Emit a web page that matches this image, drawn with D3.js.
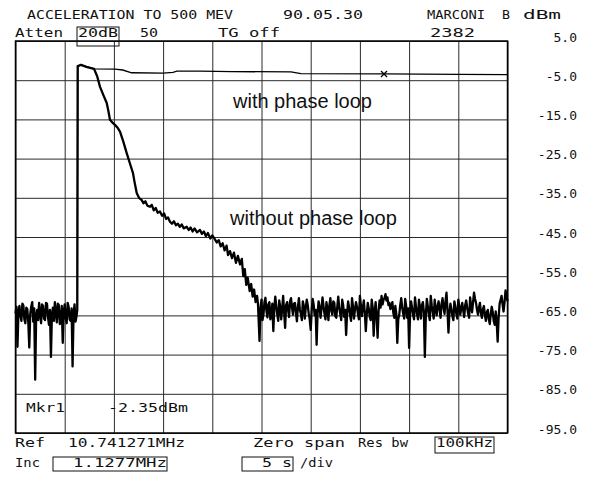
<!DOCTYPE html>
<html>
<head>
<meta charset="utf-8">
<script src="https://cdn.jsdelivr.net/npm/d3@7"></script>
<style>
body{margin:0;background:#fff;}
.mono{font-family:"DejaVu Sans Mono",monospace;font-size:13px;fill:#111;}
.note{font-family:"Liberation Sans",Arial,sans-serif;font-size:20px;fill:#111;}
</style>
</head>
<body>
<div id="chart"></div>
<script>
// time axis: zero span, 5 s/div ; level axis: 10 dB/div, ref 5 dBm
var xTicks=[0,5,10,15,20,25,30,35,40,45,50];
var yTicks=[5,-5,-15,-25,-35,-45,-55,-65,-75,-85,-95];

// noise floor before the beam (t = 0 .. 6.2 s, every 0.1 s)
var preStart=0, noiseStep=0.1;
var preNoise=[-64.5,-62.8,-73.0,-64.0,-62.6,-65.0,-66.4,-62.0,-62.5,-66.0,-67.0,-63.0,-63.4,-66.8,-73.2,-64.6,
	-62.8,-61.6,-66.6,-63.2,-81.4,-65.0,-63.6,-66.2,-61.8,-64.4,-67.0,-62.2,-62.6,-65.8,-66.2,-61.8,
	-62.0,-65.4,-67.4,-63.6,-75.6,-64.8,-63.0,-66.4,-61.6,-64.2,-66.8,-62.0,-62.4,-67.2,-66.0,-62.6,
	-72.0,-64.2,-62.2,-65.6,-67.0,-61.8,-62.8,-66.0,-66.4,-63.2,-78.0,-64.6,-62.2,-66.6,-65.2];

// without phase loop: edge and decay [t(s), dBm]
var decay=[[6.28,-63.5],[6.32,-1.4],[6.66,-1.1],[7.2,-1.6],[7.98,-2.1],[8.3,-4.0],[8.59,-6.7],[8.9,-8.6],
	[9.27,-10.8],[9.45,-13.0],[9.6,-15.1],[9.85,-15.8],[10.11,-16.4],[10.4,-17.2],[10.62,-18.1],[10.95,-20.6],
	[11.3,-23.6],[11.6,-26.0],[11.94,-28.7],[12.1,-31.0],[12.32,-33.8],[12.55,-35.0],[12.83,-35.6],[13.0,-36.4],
	[13.2,-35.9],[13.4,-37.0],[13.67,-37.3],[13.85,-36.8],[14.05,-38.2],[14.25,-37.6],[14.45,-38.8],[14.68,-38.5],
	[14.9,-39.6],[15.1,-39.0],[15.3,-40.4],[15.5,-40.0],[15.7,-41.1],[15.9,-41.6],[16.1,-41.0],[16.3,-42.0],
	[16.5,-41.6],[16.7,-42.4],[16.9,-41.8],[17.1,-42.8],[17.4,-42.4],[17.6,-43.2],[17.8,-42.6],[18.0,-43.6],
	[18.2,-42.8],[18.45,-43.8],[18.75,-43.2],[18.95,-44.2],[19.15,-43.6],[19.35,-44.8],[19.55,-44.0],[19.8,-45.4],
	[20.0,-44.6],[20.27,-45.6],[20.45,-46.4],[20.65,-45.8],[20.85,-47.4],[21.05,-46.6],[21.25,-48.4],[21.45,-47.2],
	[21.6,-49.6],[21.8,-48.6],[22.0,-50.4],[22.2,-49.0],[22.4,-51.6],[22.6,-49.8],[22.82,-52.0],[23.0,-50.6],
	[23.15,-55.0],[23.3,-53.2],[23.45,-57.2],[23.6,-55.4],[23.8,-58.8],[23.95,-57.0],[24.1,-60.2],[24.25,-58.4],
	[24.4,-61.6],[24.55,-60.0],[24.64,-62.0]];

// noise floor after decay (t = 24.8 .. 50 s, every 0.1 s)
var postStart=24.8;
var postNoise=[
	-71.5,-63.0,-61.0,-66.2,-64.8,-61.6,-60.5,-63.8,-65.5,-62.2,-61.6,-66.0,-64.6,-62.0,-69.0,-63.2,
	-60.2,-62.6,-64.8,-66.4,-61.2,-62.8,-66.0,-63.4,-60.0,-64.2,-68.2,-62.4,-61.6,-63.6,-65.4,-61.4,
	-60.6,-63.0,-64.8,-62.0,-61.8,-64.2,-66.5,-62.8,-60.6,-63.6,-64.6,-66.2,-61.4,-62.6,-65.8,-63.0,
	-61.0,-62.4,-64.6,-66.0,-68.7,-63.8,-60.8,-62.2,-65.0,-63.6,-72.5,-64.4,-61.4,-62.8,-65.6,-63.2,
	-60.4,-62.6,-64.6,-66.0,-61.6,-63.4,-66.2,-62.4,-60.6,-63.8,-64.8,-61.4,-61.8,-65.2,-65.6,-62.8,
	-60.2,-63.0,-64.6,-66.2,-61.0,-62.4,-65.4,-63.6,-70.0,-64.4,-61.4,-63.0,-65.0,-66.4,-60.6,-62.8,
	-65.8,-63.4,-61.6,-62.8,-64.6,-66.0,-60.0,-62.4,-65.2,-63.0,-61.2,-64.4,-69.0,-64.6,-61.8,-63.2,
	-65.4,-66.2,-61.0,-63.0,-70.2,-64.2,-61.6,-65.6,-70.7,-63.8,-61.2,-63.0,-60.0,-62.2,-61.0,-60.6,
	-59.6,-61.2,-60.4,-62.4,-61.8,-63.4,-62.6,-61.6,-64.4,-65.6,-62.6,-64.6,-72.0,-66.0,-64.8,-62.4,
	-60.6,-63.0,-64.6,-65.8,-60.8,-62.6,-65.6,-63.2,-73.3,-64.6,-61.4,-63.0,-64.8,-66.0,-60.4,-62.8,
	-64.6,-66.0,-61.0,-63.0,-65.8,-62.4,-61.6,-64.0,-75.6,-65.0,-60.8,-62.6,-64.8,-66.2,-60.0,-62.4,
	-64.2,-65.8,-61.0,-63.2,-65.0,-62.6,-61.4,-63.6,-65.6,-62.0,-60.6,-63.0,-64.6,-61.4,-59.2,-63.6,
	-69.4,-64.4,-62.0,-63.4,-65.2,-66.2,-61.4,-62.8,-64.6,-65.8,-61.0,-62.6,-64.8,-63.2,-61.8,-63.8,
	-65.4,-62.4,-61.2,-63.0,-64.6,-65.6,-60.4,-62.6,-64.2,-61.6,-59.2,-60.8,-61.8,-63.6,-64.8,-63.0,
	-61.8,-64.4,-65.6,-63.4,-62.6,-64.8,-66.4,-64.2,-63.6,-66.0,-67.2,-64.6,-62.8,-64.2,-66.4,-67.4,
	-64.0,-66.6,-71.7,-65.4,-62.0,-61.0,-60.0,-62.2,-64.0,-61.6,-58.6,-60.0,-61.4];

// with phase loop [t(s), dBm]
var withLoop=[[6.28,-63.5],[6.32,-1.4],[6.66,-1.1],[7.98,-2.1],[10.1,-2.2],[10.9,-2.4],[11.8,-3.1],[15.0,-3.2],
	[16.0,-3.0],[16.4,-2.7],[18.75,-2.7],[22.0,-2.8],[28.0,-2.9],[29.0,-3.3],[37.45,-3.4],[45.0,-3.5],[50.0,-3.6]];

var marker={t:37.45, v:-3.4};

var width=591, height=477;
var plotL=15.5, plotR=507.5, plotT=41, plotB=433;

var svg=d3.select("#chart").append("svg")
	.attr("width",width).attr("height",height);

var x=d3.scaleLinear().domain([0,50]).range([plotL,plotR]);
var y=d3.scaleLinear().domain([5,-95]).range([plotT,plotB]);

//=============grid================
svg.append("g").attr("class","xgrid")
	.attr("transform","translate(0,"+plotB+")")
	.call(d3.axisBottom(x).tickValues(xTicks).tickSize(-(plotB-plotT)).tickFormat(""))
	.call(function(g){g.select(".domain").remove();
		g.selectAll("line").attr("stroke","#2a2a2a").attr("stroke-width",1);});
svg.append("g").attr("class","ygrid")
	.attr("transform","translate("+plotL+",0)")
	.call(d3.axisLeft(y).tickValues(yTicks).tickSize(-(plotR-plotL)).tickFormat(""))
	.call(function(g){g.select(".domain").remove();
		g.selectAll("line").attr("stroke","#2a2a2a").attr("stroke-width",1);});
svg.append("rect").attr("x",plotL).attr("y",plotT)
	.attr("width",plotR-plotL).attr("height",plotB-plotT)
	.attr("fill","none").attr("stroke","#000").attr("stroke-width",1.5);

// level labels on the right
svg.append("g").attr("transform","translate(577,0)")
	.call(d3.axisLeft(y).tickValues(yTicks).tickSize(0).tickPadding(0)
		.tickFormat(function(d){return d.toFixed(1);}))
	.call(function(g){g.select(".domain").remove();
		g.attr("font-family",null).attr("font-size",null);
		g.selectAll("text").attr("dy",0).attr("class","mono");});

//=============traces================
var line=d3.line().x(function(d){return x(d[0]);}).y(function(d){return y(d[1]);});
var pre=preNoise.map(function(v,i){return [preStart+i*noiseStep,v];});
var post=postNoise.map(function(v,i){return [postStart+i*noiseStep,v];});
var without=pre.concat(decay).concat(post);

svg.append("path").datum(withLoop).attr("d",line)
	.attr("fill","none").attr("stroke","#000").attr("stroke-width",1.3);
svg.append("path").datum(without).attr("d",line)
	.attr("fill","none").attr("stroke","#000").attr("stroke-width",2.3).attr("stroke-linejoin","round");

// marker x
var mx=x(marker.t), my=y(marker.v);
svg.append("path").attr("d","M"+(mx-3)+","+(my-3)+"L"+(mx+3)+","+(my+3)+"M"+(mx-3)+","+(my+3)+"L"+(mx+3)+","+(my-3))
	.attr("stroke","#000").attr("stroke-width",1.3);

svg.append("text").attr("class","note").attr("x",233).attr("y",108).text("with phase loop");
svg.append("text").attr("class","note").attr("x",230).attr("y",225).text("without phase loop");

//=============header / footer text================
var texts=[
	[27,19,"ACCELERATION TO 500 MEV",206],
	[283,19,"90.05.30",80],
	[427,19,"MARCONI",58],
	[502,19,"B",8],
	[523,19,"dBm",38],
	[15,37,"Atten",48],
	[78,37,"20dB",40],
	[140,37,"50",18],
	[218,37,"TG off",62],
	[430,37,"2382",45],
	[26,412,"Mkr1",39],
	[108,412,"-2.35dBm",80],
	[15,447,"Ref",30],
	[68,447,"10.741271MHz",117],
	[253,447,"Zero span",92],
	[358,447,"Res bw",50],
	[436,447,"100kHz",57],
	[15,467,"Inc",25],
	[73,467,"1.1277MHz",94],
	[262,467,"5 s",30],
	[300,467,"/div",33]
];
svg.append("g").selectAll("text").data(texts).enter().append("text")
	.attr("class","mono")
	.attr("x",function(d){return d[0];})
	.attr("y",function(d){return d[1];})
	.attr("textLength",function(d){return d[3];})
	.attr("lengthAdjust","spacingAndGlyphs")
	.text(function(d){return d[2];});

var boxes=[[77,27,42,19],[435,437,59,16],[53,457,114,14],[242,457,51,14]];
svg.append("g").selectAll("rect").data(boxes).enter().append("rect")
	.attr("x",function(d){return d[0];}).attr("y",function(d){return d[1];})
	.attr("width",function(d){return d[2];}).attr("height",function(d){return d[3];})
	.attr("fill","none").attr("stroke","#111").attr("stroke-width",1);
</script>
</body>
</html>
